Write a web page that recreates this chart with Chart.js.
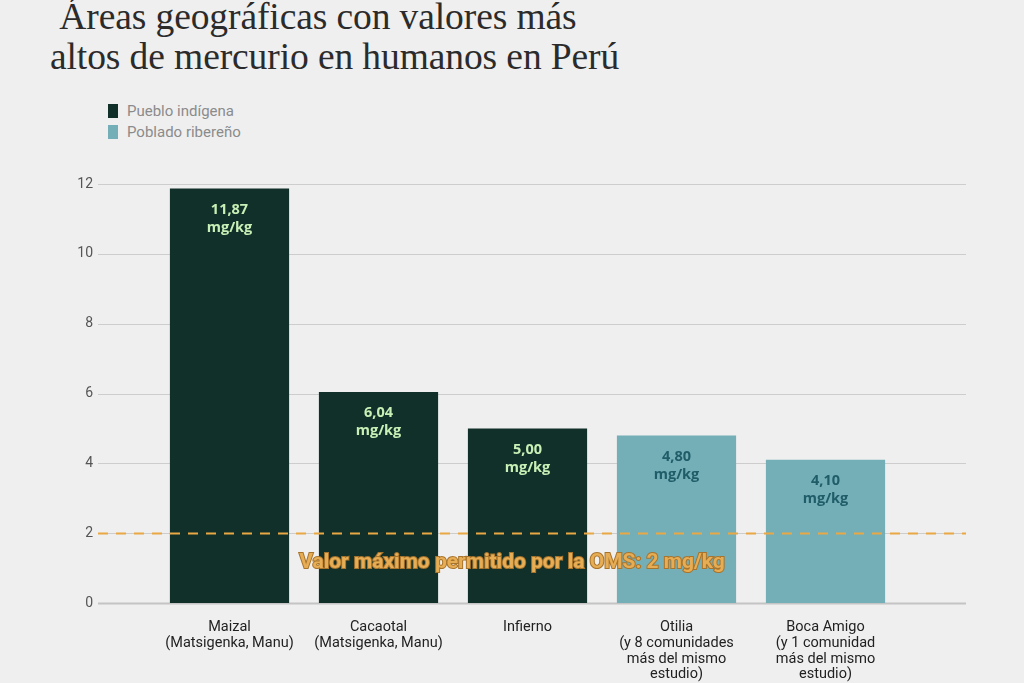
<!DOCTYPE html>
<html>
<head>
<meta charset="utf-8">
<script src="https://cdn.jsdelivr.net/npm/chart.js@4"></script>
<style>
    html, body { margin: 0; padding: 0; background: #efefef; }
    #wrap { position: relative; width: 1024px; height: 683px; overflow: hidden; }
    #title {
        position: absolute; left: 50px; top: -3px; margin: 0;
        font-family: "Liberation Serif", serif; font-weight: normal;
        font-size: 37.5px; line-height: 40px; color: #2b2b2b; letter-spacing: -0.1px;
    }
    #legend { position: absolute; left: 108px; top: 101px; font-family: "Roboto", sans-serif; font-size: 15px; color: #8b8b8b; }
    .item { height: 21px; line-height: 21px; }
    .sw { display: inline-block; width: 10px; height: 14px; margin-right: 9px; vertical-align: -2px; }
    canvas { position: absolute; left: 0; top: 0; }
</style>
</head>
<body>
<div id="wrap">
    <h1 id="title">&nbsp;Áreas geográficas con valores más<br>altos de mercurio en humanos en Perú</h1>
    <div id="legend">
        <div class="item"><span class="sw" style="background:#12302a"></span>Pueblo indígena</div>
        <div class="item"><span class="sw" style="background:#74aeb7"></span>Poblado ribereño</div>
    </div>
    <canvas id="chart" width="1024" height="683"></canvas>
</div>
<script>
    //-----------------------------------------------------------------------------------
    // - DATA ---------------------------------------------------------------------------
    //-----------------------------------------------------------------------------------

    var categories = [
        ["Maizal", "(Matsigenka, Manu)"],
        ["Cacaotal", "(Matsigenka, Manu)"],
        ["Infierno"],
        ["Otilia", "(y 8 comunidades", "más del mismo", "estudio)"],
        ["Boca Amigo", "(y 1 comunidad", "más del mismo", "estudio)"]
    ];
    var indigena_values = [11.87, 6.04, 5.00, null, null];
    var ribereno_values = [null, null, null, 4.80, 4.10];
    var y_ticks = [0, 2, 4, 6, 8, 10, 12];
    var oms_limit = 2;
    var oms_label = "Valor máximo permitido por la OMS: 2 mg/kg";

    var dark = "#12302a";
    var light = "#74aeb7";

    //-----------------------------------------------------------------------------------
    // - PLUGINS ------------------------------------------------------------------------
    //-----------------------------------------------------------------------------------

    // grid lines run wider than the bars, so draw them by hand
    var grid_plugin = {
        id: 'wideGrid',
        beforeDatasetsDraw: function (chart) {
            var ctx = chart.ctx, y = chart.scales.y;
            ctx.save();
            y_ticks.forEach(function (t) {
                var py = Math.round(y.getPixelForValue(t)) + 0.5;
                ctx.strokeStyle = t === 0 ? "#c4c4c4" : "#cdcdcd";
                ctx.lineWidth = t === 0 ? 2 : 1;
                ctx.beginPath();
                ctx.moveTo(98, py);
                ctx.lineTo(966, py);
                ctx.stroke();
            });
            ctx.restore();
        },
        afterDatasetsDraw: function (chart) {
            var ctx = chart.ctx, y = chart.scales.y;
            ctx.save();

            // value labels inside the bars
            ctx.textAlign = 'center';
            ctx.textBaseline = 'middle';
            ctx.font = "bold 14.5px 'Open Sans', sans-serif";
            chart.data.datasets.forEach(function (ds, di) {
                chart.getDatasetMeta(di).data.forEach(function (bar, i) {
                    var v = ds.data[i];
                    if (v === null) return;
                    ctx.fillStyle = di === 0 ? "#c8efb5" : "#1f5d68";
                    ctx.fillText(v.toFixed(2).replace('.', ','), bar.x, bar.y + 21);
                    ctx.fillText("mg/kg", bar.x, bar.y + 39);
                });
            });

            // OMS limit line
            var py = Math.round(y.getPixelForValue(oms_limit)) + 0.5;
            ctx.strokeStyle = "#e9a843";
            ctx.lineWidth = 2;
            ctx.setLineDash([10, 8]);
            ctx.beginPath();
            ctx.moveTo(98, py);
            ctx.lineTo(966, py);
            ctx.stroke();
            ctx.setLineDash([]);

            ctx.font = "bold 21px 'Roboto', sans-serif";
            ctx.lineWidth = 2;
            ctx.strokeStyle = "#a8742c";
            ctx.strokeText(oms_label, 512, py + 29);
            ctx.fillStyle = "#e7ad55";
            ctx.fillText(oms_label, 512, py + 29);
            ctx.restore();
        }
    };

    //-----------------------------------------------------------------------------------
    // - BAR CHART ----------------------------------------------------------------------
    //-----------------------------------------------------------------------------------

    var bar_chart_data = {
        labels: categories,
        datasets: [{
            label: 'Pueblo indígena',
            backgroundColor: dark,
            data: indigena_values,
            barPercentage: 0.8,
            categoryPercentage: 1
        }, {
            label: 'Poblado ribereño',
            backgroundColor: light,
            data: ribereno_values,
            barPercentage: 0.8,
            categoryPercentage: 1
        }]
    };

    var bar_chart_config = {
        type: 'bar',
        data: bar_chart_data,
        options: {
            responsive: false,
            animation: false,
            layout: { padding: { left: 0, right: 124, top: 184, bottom: 0 } },
            plugins: {
                legend: { display: false },
                tooltip: { enabled: false }
            },
            scales: {
                x: {
                    stacked: true,
                    grid: { display: false },
                    border: { display: false },
                    ticks: {
                        color: "#222",
                        padding: 8,
                        maxRotation: 0,
                        autoSkip: false,
                        font: { family: "Roboto", size: 14.5, lineHeight: 1.1 }
                    },
                    afterFit: function (s) { s.height = 80; }
                },
                y: {
                    stacked: true,
                    min: 0,
                    max: 12,
                    grid: { display: false, drawTicks: false },
                    border: { display: false },
                    ticks: {
                        stepSize: 2,
                        color: "#555",
                        padding: 62,
                        font: { family: "Roboto", size: 14 }
                    },
                    afterFit: function (s) { s.width = 155; }
                }
            }
        },
        plugins: [grid_plugin]
    };

    var bar_chart_ctx = document.getElementById("chart").getContext("2d");

    new Chart(bar_chart_ctx, bar_chart_config);
</script>
</body>
</html>
